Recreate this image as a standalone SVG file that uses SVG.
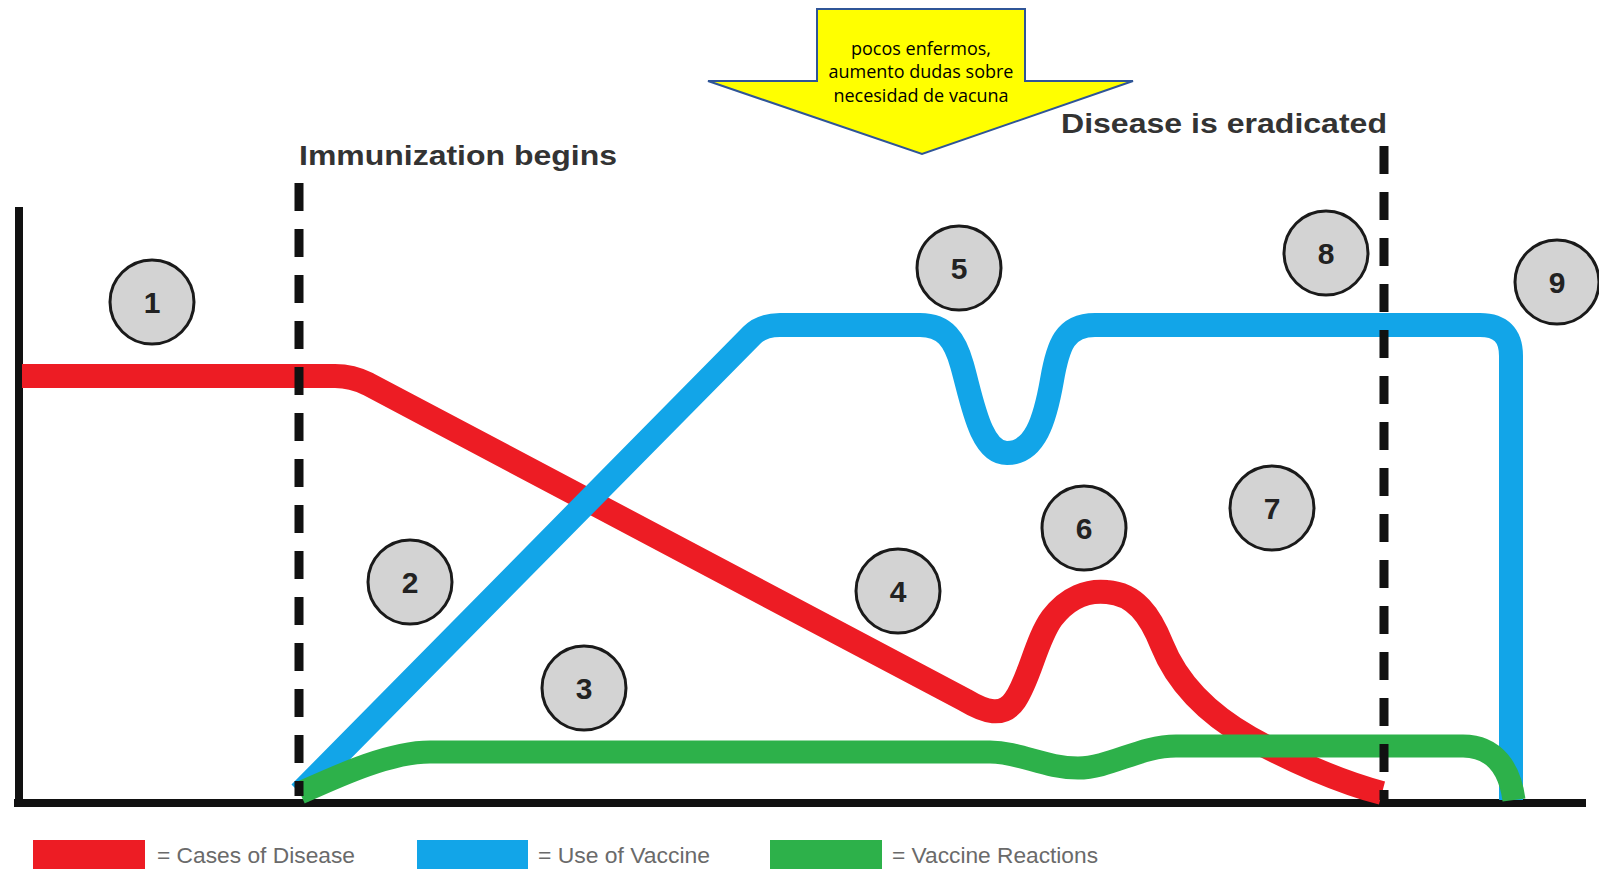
<svg xmlns="http://www.w3.org/2000/svg" width="1599" height="869" viewBox="0 0 1599 869">
<style>
.bg{fill:#ffffff}
.axis{stroke:#111;stroke-width:8;fill:none}
.dash{stroke:#111;stroke-width:9;fill:none;stroke-dasharray:28 18}
.curve{fill:none;stroke-width:24;stroke-linejoin:round;stroke-linecap:butt}
.red{stroke:#ED1C24}
.blue{stroke:#12A5E8}
.green{stroke:#2DB14A;stroke-width:23}
.circ{fill:#D3D3D3;stroke:#1a1a1a;stroke-width:3}
.num{font-family:"Liberation Sans",Arial,sans-serif;font-weight:bold;font-size:30px;fill:#222;text-anchor:middle}
.title{font-family:"Liberation Sans",Arial,sans-serif;font-weight:bold;font-size:28px;fill:#333}
.callout{fill:#FFFF00;stroke:#2F5597;stroke-width:2}
.ctext{font-family:"Open Sans","Liberation Sans",sans-serif;font-size:18px;fill:#000;text-anchor:middle}
.leg{font-family:"Liberation Sans",Arial,sans-serif;font-size:22px;fill:#6a6a6a}
</style>
<rect class="bg" x="0" y="0" width="1599" height="869"/>

<g id="axes">
<line class="axis" x1="19" y1="207" x2="19" y2="807"/>
<line class="axis" x1="14" y1="803" x2="1586" y2="803"/>
</g>

<g id="connectors">
<path class="curve red" d="M22 376 L335 376 Q352 376 368 384 L965 700 C985 712 1003 718 1015 700 C1030 678 1036 640 1052 618 C1068 597 1088 590 1107 592 C1135 594 1150 615 1162 645 C1180 690 1215 718 1250 738 C1290 760 1340 782 1382 793"/>
<path class="curve blue" d="M300 793 L752 335 Q762 325 780 325 L920 325 C945 325 955 340 962 365 C972 400 980 453 1007 453 C1035 453 1045 420 1052 380 C1058 345 1065 325 1095 325 L1480 325 Q1511 325 1511 356 L1511 800"/>
<path class="curve green" d="M300 793 C340 775 390 752 430 752 L990 752 C1020 752 1045 768 1078 768 C1110 768 1140 746 1176 746 L1463 746 C1495 746 1510 770 1514 800"/>
<line class="dash" x1="299" y1="183" x2="299" y2="796"/>
<line class="dash" x1="1384" y1="146" x2="1384" y2="800"/>
</g>

<g id="label-immunization">
<text class="title" x="299" y="165" textLength="318" lengthAdjust="spacingAndGlyphs">Immunization begins</text>
</g>
<g id="label-eradicated">
<text class="title" x="1061" y="133" textLength="326" lengthAdjust="spacingAndGlyphs">Disease is eradicated</text>
</g>

<g id="callout">
<path class="callout" d="M817 9 L1025 9 L1025 81 L1133 81 L922 154 L708 81 L817 81 Z"/>
<text class="ctext" x="921" y="55">pocos enfermos,</text>
<text class="ctext" x="921" y="78">aumento dudas sobre</text>
<text class="ctext" x="921" y="102">necesidad de vacuna</text>
</g>

<g id="n1"><circle class="circ" cx="152" cy="302" r="42"/><text class="num" x="152" y="313">1</text></g>
<g id="n2"><circle class="circ" cx="410" cy="582" r="42"/><text class="num" x="410" y="593">2</text></g>
<g id="n3"><circle class="circ" cx="584" cy="688" r="42"/><text class="num" x="584" y="699">3</text></g>
<g id="n4"><circle class="circ" cx="898" cy="591" r="42"/><text class="num" x="898" y="602">4</text></g>
<g id="n5"><circle class="circ" cx="959" cy="268" r="42"/><text class="num" x="959" y="279">5</text></g>
<g id="n6"><circle class="circ" cx="1084" cy="528" r="42"/><text class="num" x="1084" y="539">6</text></g>
<g id="n7"><circle class="circ" cx="1272" cy="508" r="42"/><text class="num" x="1272" y="519">7</text></g>
<g id="n8"><circle class="circ" cx="1326" cy="253" r="42"/><text class="num" x="1326" y="264">8</text></g>
<g id="n9"><circle class="circ" cx="1557" cy="282" r="42"/><text class="num" x="1557" y="293">9</text></g>

<g id="legend">
<rect x="33" y="840" width="112" height="29" fill="#ED1C24"/>
<text class="leg" x="157" y="863" textLength="198" lengthAdjust="spacingAndGlyphs">= Cases of Disease</text>
<rect x="417" y="840" width="111" height="29" fill="#12A5E8"/>
<text class="leg" x="538" y="863" textLength="172" lengthAdjust="spacingAndGlyphs">= Use of Vaccine</text>
<rect x="770" y="840" width="112" height="29" fill="#2DB14A"/>
<text class="leg" x="892" y="863" textLength="206" lengthAdjust="spacingAndGlyphs">= Vaccine Reactions</text>
</g>
</svg>
